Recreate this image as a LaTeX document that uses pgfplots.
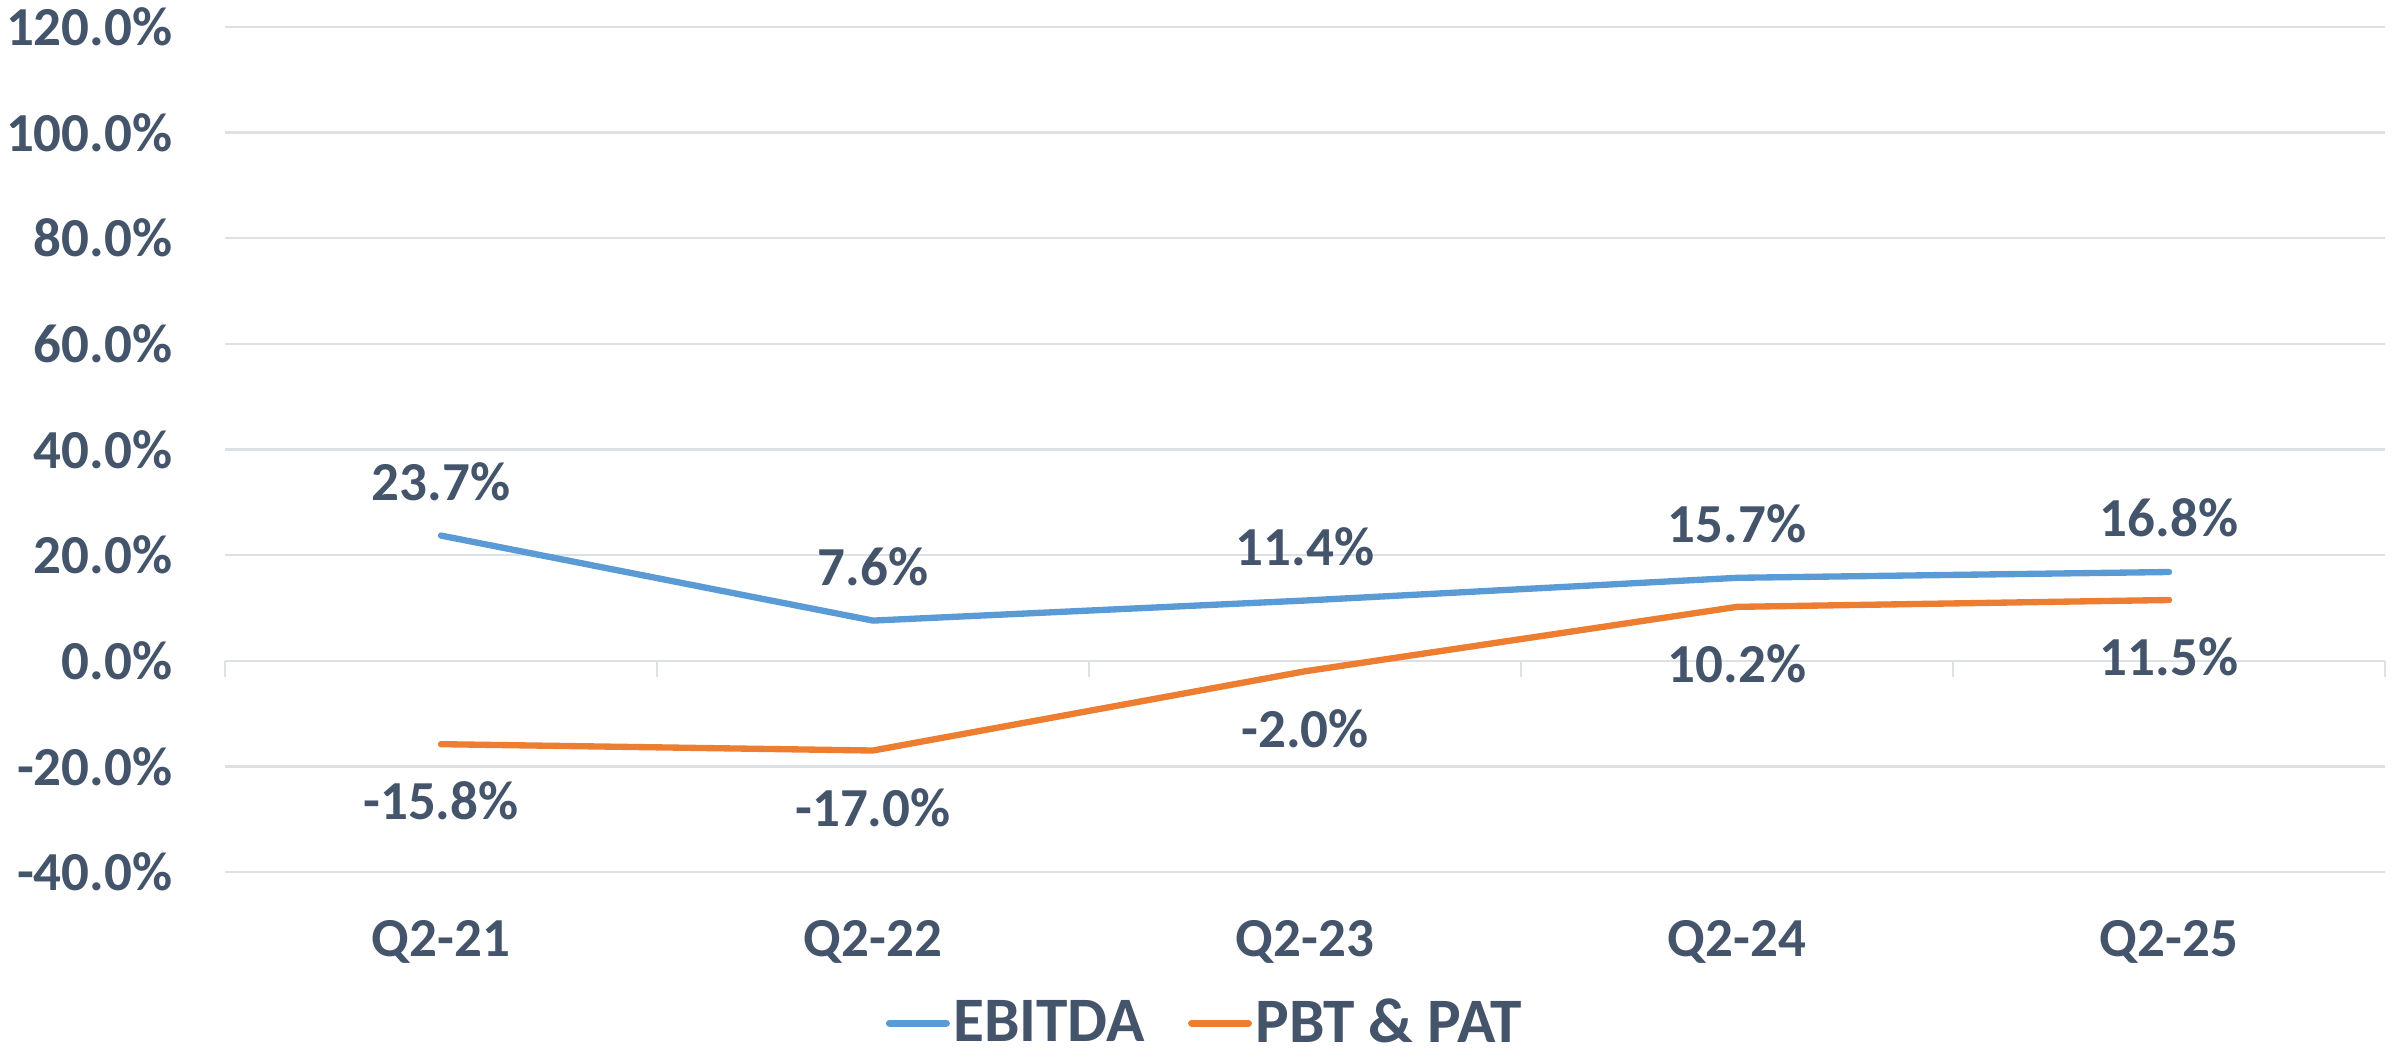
\documentclass[border=0pt]{standalone}
\usepackage{fontspec}
\setmainfont{Carlito}
\usepackage{pgfplots}
\pgfplotsset{compat=1.18}
\definecolor{ebitda}{HTML}{5B9BD5}
\definecolor{pbt}{HTML}{ED7D31}
\definecolor{txt}{HTML}{44546A}
\definecolor{gridc}{HTML}{DDE1E6}
\begin{document}
\begin{tikzpicture}[font=\bfseries]
\path[use as bounding box] (0,0) rectangle (720.6pt,317.7pt);
\begin{axis}[
  at={(67.5pt,56.1pt)}, anchor=south west,
  scale only axis, width=648pt, height=253.5pt,
  xmin=-0.5, xmax=4.5, ymin=-40, ymax=120,
  axis line style={draw=none},
  ytick={-40,-20,0,20,40,60,80,100,120},
  yticklabels={-40.0\%,-20.0\%,0.0\%,20.0\%,40.0\%,60.0\%,80.0\%,100.0\%,120.0\%},
  xtick={0,1,2,3,4},
  xticklabels={Q2-21,Q2-22,Q2-23,Q2-24,Q2-25},
  major tick length=0pt,
  ymajorgrids, grid style={gridc, line width=0.7pt},
  tick label style={font=\fontsize{16.5}{16.5}\selectfont\bfseries, text=txt, inner sep=0pt},
  yticklabel style={anchor=east, xshift=-15.6pt},
  xticklabel style={anchor=north, yshift=-14.4pt},
  clip=false,
  legend style={at={(0.454,-0.179)}, anchor=center, draw=none, fill=none,
    legend columns=2, font=\fontsize{19}{19}\selectfont\bfseries, text=txt,
    inner sep=0pt, nodes={inner sep=1pt},
    /tikz/every even column/.append style={column sep=12pt}},
  legend image code/.code={\draw[#1, line width=2.2pt, line cap=round] (0pt,0pt) -- (17pt,0pt);},
]
\pgfplotsinvokeforeach{-0.5,0.5,1.5,2.5,3.5,4.5}{
  \draw[gridc, line width=0.7pt] (axis cs:#1,0) -- ([yshift=-4.8pt]axis cs:#1,0);
}
\addplot[ebitda, line width=1.9pt, line cap=round, line join=round, mark=none,
  nodes near coords, point meta=explicit symbolic,
  every node near coord/.append style={anchor=south, inner sep=0pt, yshift=9.5pt,
    font=\fontsize{16.5}{16.5}\selectfont\bfseries, text=txt}]
  coordinates {(0,23.7)[23.7\%] (1,7.6)[7.6\%] (2,11.4)[11.4\%] (3,15.7)[15.7\%] (4,16.8)[16.8\%]};
\addlegendentry{EBITDA}
\addplot[pbt, line width=1.9pt, line cap=round, line join=round, mark=none,
  nodes near coords, point meta=explicit symbolic,
  every node near coord/.append style={anchor=north, inner sep=0pt, yshift=-10.4pt,
    font=\fontsize{16.5}{16.5}\selectfont\bfseries, text=txt}]
  coordinates {(0,-15.8)[-15.8\%] (1,-17.0)[-17.0\%] (2,-2.0)[-2.0\%] (3,10.2)[10.2\%] (4,11.5)[11.5\%]};
\addlegendentry{PBT \& PAT}
\end{axis}
\end{tikzpicture}
\end{document}
